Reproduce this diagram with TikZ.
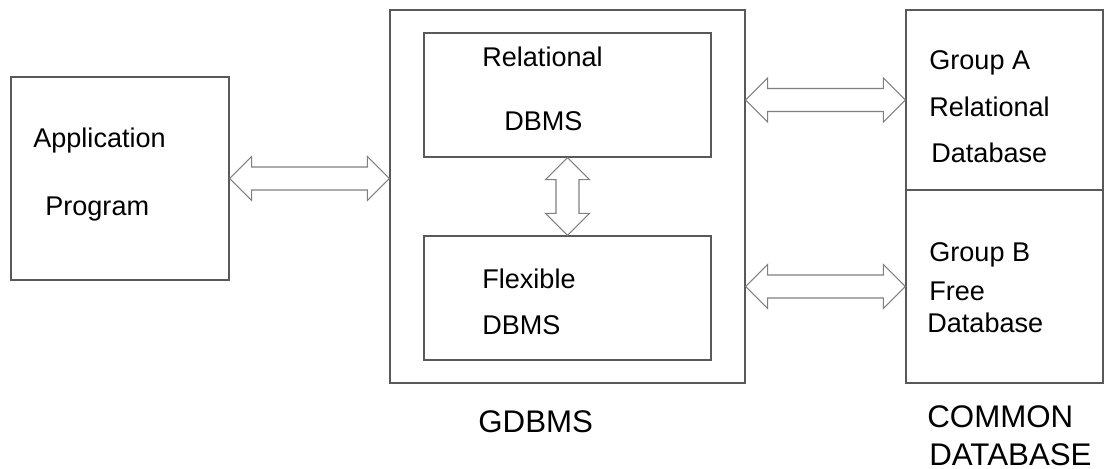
\documentclass[tikz,border=0pt]{standalone}
\usepackage{fontspec}
\setmainfont{Liberation Sans}
\usetikzlibrary{calc}

% hollow double-headed arrows
\def\headlen{0.44cm}
\def\headwd{0.44cm}
\def\shaftwd{0.23cm}
\newcommand{\harrow}[2]{%
  \draw[fatarrow] let \p1=(#1), \p2=(#2) in
    (\p1) -- (\x1+\headlen,\y1+\headwd) -- (\x1+\headlen,\y1+\shaftwd)
    -- (\x2-\headlen,\y1+\shaftwd) -- (\x2-\headlen,\y1+\headwd) -- (\x2,\y1)
    -- (\x2-\headlen,\y1-\headwd) -- (\x2-\headlen,\y1-\shaftwd)
    -- (\x1+\headlen,\y1-\shaftwd) -- (\x1+\headlen,\y1-\headwd) -- cycle;}
\newcommand{\varrow}[2]{%
  \draw[fatarrow] let \p1=(#1), \p2=(#2) in
    (\p1) -- (\x1+\headwd,\y1-\headlen) -- (\x1+\shaftwd,\y1-\headlen)
    -- (\x1+\shaftwd,\y2+\headlen) -- (\x1+\headwd,\y2+\headlen) -- (\x1,\y2)
    -- (\x1-\headwd,\y2+\headlen) -- (\x1-\shaftwd,\y2+\headlen)
    -- (\x1-\shaftwd,\y1-\headlen) -- (\x1-\headwd,\y1-\headlen) -- cycle;}

\begin{document}
\begin{tikzpicture}[x=0.02cm,y=-0.02cm,
    box/.style={draw=black!65,line width=0.7pt,inner sep=0pt},
    fatarrow/.style={draw=black!50,line width=0.6pt,fill=white,line join=miter},
    txt/.style={anchor=base west,inner sep=0pt,font=\fontsize{15.4}{18}\selectfont},
    big/.style={anchor=base west,inner sep=0pt,font=\fontsize{17.8}{21}\selectfont}]
  \useasboundingbox (0,0) rectangle (1105,469);

  % boxes
  \node[box,minimum width=4.36cm,minimum height=4.06cm] (app) at (120,178.5) {};
  \node[box,minimum width=7.1cm,minimum height=7.46cm] (gdbms) at (567.5,196.5) {};
  \node[box,minimum width=5.74cm,minimum height=2.48cm] (rel) at (567.5,95) {};
  \node[box,minimum width=5.74cm,minimum height=2.48cm] (flex) at (567.5,298) {};
  \node[box,minimum width=3.94cm,minimum height=3.6cm] (grpA) at (1004.5,100) {};
  \node[box,minimum width=3.94cm,minimum height=3.86cm] (grpB) at (1004.5,286.5) {};

  % texts
  \node[txt] (t1) at (33,148) {Application};
  \node[txt] (t2) at (45,216) {Program};
  \node[txt] (t3) at (482,67) {Relational};
  \node[txt] (t4) at (504,131) {DBMS};
  \node[txt] (t5) at (482,289) {Flexible};
  \node[txt] (t6) at (482,335) {DBMS};
  \node[txt] (t7) at (929,70) {Group A};
  \node[txt] (t8) at (929,117) {Relational};
  \node[txt] (t9) at (931,163) {Database};
  \node[txt] (t10) at (929,262) {Group B};
  \node[txt] (t11) at (929,301) {Free};
  \node[txt] (t12) at (927,333) {Database};
  \node[big] (gname) at (478,432) {GDBMS};
  \node[big] (cname1) at (927,427) {COMMON};
  \node[big] (cname2) at (929,465) {DATABASE};

  % arrows
  \harrow{app.east}{gdbms.west |- app.east}
  \harrow{gdbms.east |- grpA.west}{grpA.west}
  \harrow{gdbms.east |- grpB.west}{grpB.west}
  \varrow{rel.south}{flex.north}
\end{tikzpicture}
\end{document}
